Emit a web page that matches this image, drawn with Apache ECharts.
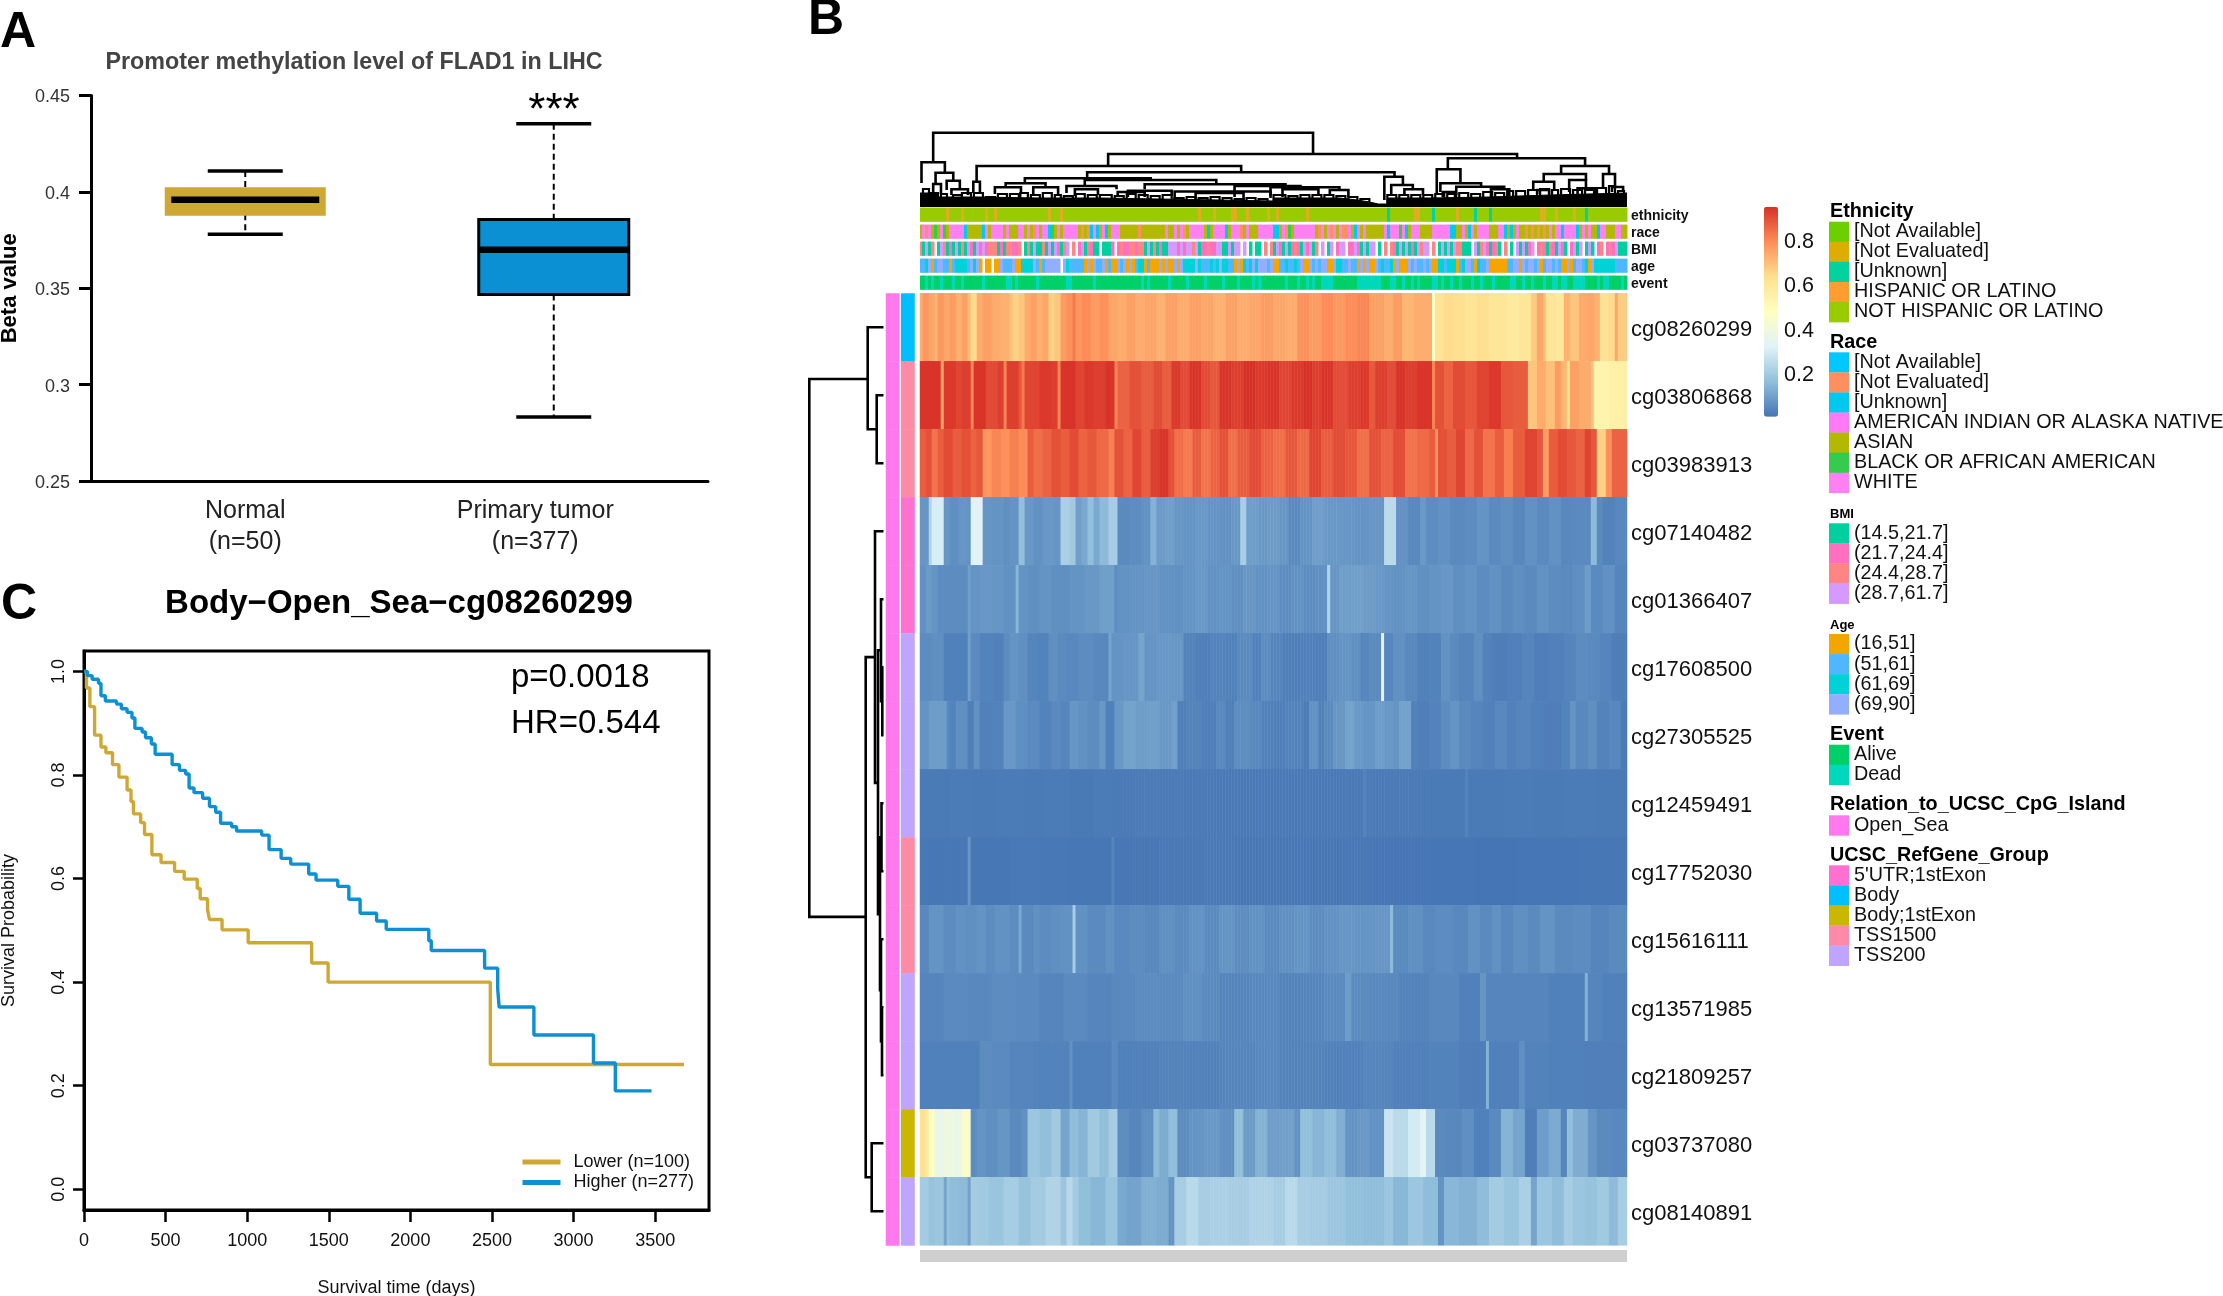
<!DOCTYPE html>
<html><head><meta charset="utf-8">
<style>html,body{margin:0;padding:0;background:#fff}#c{width:2223px;height:1296px}</style>
<script src="https://cdn.jsdelivr.net/npm/echarts@6/dist/echarts.min.js"></script>
</head><body><div id="c"></div><script>
// ---------- Panel A data ----------
const boxCategories = ['Normal\n(n=50)', 'Primary tumor\n(n=377)'];
const boxNormal = [0.378, 0.3884, 0.3959, 0.4016, 0.4108];
const boxTumor = [0.2832, 0.3467, 0.370, 0.3857, 0.4354];
// ---------- Panel C data ----------
const lowerDays = [0,15,36,65,104,134,175,214,264,288,303,347,371,416,472,555,614,694,712,757,769,846,1006,1395,1496,2490,3677];
const lowerSurv = [1,0.968,0.932,0.877,0.854,0.843,0.820,0.796,0.771,0.749,0.725,0.708,0.685,0.646,0.631,0.614,0.599,0.581,0.561,0.540,0.521,0.501,0.476,0.437,0.400,0.241,0.241];
const higherDays = [0,21,50,89,104,131,199,229,264,294,312,356,377,413,436,540,585,623,644,674,727,769,807,837,905,935,1089,1134,1208,1267,1377,1422,1555,1623,1692,1793,1852,2113,2128,2455,2535,2544,2757,3122,3256,3478];
const higherSurv = [1,0.992,0.985,0.977,0.953,0.943,0.937,0.928,0.921,0.910,0.890,0.883,0.872,0.860,0.840,0.820,0.809,0.802,0.775,0.766,0.755,0.739,0.728,0.707,0.700,0.692,0.684,0.656,0.639,0.628,0.609,0.597,0.585,0.560,0.533,0.518,0.502,0.480,0.461,0.427,0.388,0.352,0.298,0.244,0.190,0.190];
const survXTicks = [0,500,1000,1500,2000,2500,3000,3500];
const survYTicks = [0,0.2,0.4,0.6,0.8,1.0];
// ---------- Panel B data: rows as [lastColumn, value, ...] read across the picture ----------
const COLS = 236;
const cgIds = ['cg08260299','cg03806868','cg03983913','cg07140482','cg01366407','cg17608500','cg27305525','cg12459491','cg17752030','cg15616111','cg13571985','cg21809257','cg03737080','cg08140891'];
const cg08260299 = [1,.73,3,.77,5,.74,6,.71,8,.77,10,.74,12,.76,14,.72,16,.75,17,.70,19,.64,21,.73,24,.75,27,.73,30,.72,31,.69,33,.66,35,.68,37,.73,39,.75,41,.72,43,.74,45,.66,47,.68,49,.76,51,.78,52,.82,54,.77,57,.79,60,.76,63,.78,66,.74,69,.73,72,.75,75,.73,79,.74,82,.72,86,.75,90,.73,94,.75,98,.74,102,.72,106,.75,110,.73,114,.74,118,.76,122,.74,126,.73,130,.78,134,.76,138,.79,142,.77,146,.79,150,.80,155,.75,158,.73,161,.76,165,.71,171,.73,172,.45,175,.61,178,.64,182,.63,186,.61,190,.63,196,.60,200,.58,204,.60,206,.67,208,.74,209,.70,212,.61,215,.59,217,.72,220,.68,223,.73,225,.74,227,.72,230,.62,232,.64,233,.74,236,.67];
const cg03806868 = [7,.94,8,.74,12,.93,14,.91,17,.92,18,.80,22,.94,26,.90,28,.92,29,.80,33,.92,34,.88,35,.82,40,.91,44,.93,46,.92,47,.80,52,.94,55,.91,58,.93,62,.92,65,.94,66,.80,70,.86,74,.89,78,.87,81,.90,84,.87,87,.93,90,.90,94,.94,97,.90,100,.88,104,.94,108,.92,112,.945,116,.93,120,.94,124,.91,128,.93,131,.945,134,.92,138,.94,143,.90,147,.92,150,.93,152,.88,156,.92,159,.90,162,.94,166,.92,171,.94,172,.80,175,.89,178,.86,182,.90,186,.88,190,.91,194,.93,198,.88,203,.87,206,.68,209,.73,212,.69,214,.76,216,.71,217,.62,220,.75,224,.73,225,.69,230,.53,236,.55];
const cg03983913 = [2,.87,4,.89,6,.83,8,.87,11,.90,14,.87,17,.89,19,.86,21,.88,24,.77,27,.80,30,.78,33,.81,36,.79,38,.87,41,.84,44,.86,47,.89,50,.87,53,.90,56,.86,59,.88,63,.85,65,.81,68,.89,71,.86,74,.91,77,.87,80,.92,83,.94,85,.89,88,.84,91,.82,94,.87,97,.83,100,.86,103,.89,106,.84,110,.87,114,.90,118,.86,122,.84,126,.88,130,.85,134,.91,138,.87,142,.90,146,.88,150,.84,154,.89,158,.86,162,.90,166,.83,170,.85,172,.87,173,.78,176,.89,179,.87,182,.91,185,.85,188,.89,192,.83,195,.87,198,.81,202,.87,206,.91,208,.88,210,.76,213,.87,216,.90,219,.88,222,.86,224,.91,226,.88,229,.66,231,.78,236,.86];
const cg07140482 = [3,.07,4,.22,8,.30,10,.07,13,.055,16,.07,17,.06,21,.32,24,.07,28,.065,30,.055,33,.065,35,.16,38,.075,41,.06,45,.075,47,.07,50,.21,52,.19,54,.09,56,.11,58,.16,60,.11,63,.15,66,.20,70,.045,74,.05,77,.06,79,.13,82,.08,85,.09,88,.07,92,.065,96,.075,100,.065,104,.06,107,.075,109,.20,113,.085,116,.075,120,.08,123,.07,127,.045,131,.065,135,.085,140,.075,145,.07,150,.065,155,.07,159,.24,163,.06,167,.04,169,.075,173,.05,177,.06,182,.045,186,.05,190,.065,194,.045,198,.055,202,.04,206,.06,210,.045,214,.06,218,.04,224,.045,226,.15,228,.045,232,.03,236,.04];
const cg01366407 = [2,.06,4,.08,6,.065,10,.05,16,.05,17,.09,20,.065,24,.075,28,.07,32,.06,33,.14,36,.065,40,.055,44,.065,50,.055,55,.065,60,.075,65,.09,66,.05,70,.06,75,.065,80,.07,84,.06,88,.055,92,.065,96,.075,100,.06,104,.065,108,.055,112,.07,116,.06,120,.065,124,.05,128,.06,132,.05,136,.055,137,.22,140,.07,144,.085,148,.09,152,.08,155,.075,158,.065,162,.06,166,.07,170,.055,174,.065,178,.075,182,.055,186,.065,190,.05,194,.06,198,.045,202,.055,206,.045,210,.06,214,.05,218,.045,222,.055,224,.085,228,.045,232,.06,236,.035];
const cg17608500 = [4,.05,8,.055,10,.025,16,.025,17,.09,20,.045,25,.03,28,.025,30,.05,33,.065,36,.055,39,.035,43,.03,46,.055,49,.045,53,.04,58,.05,63,.04,64,.10,68,.065,73,.07,75,.10,79,.065,84,.075,88,.07,92,.03,97,.02,102,.03,106,.025,111,.045,114,.025,117,.05,121,.035,127,.02,132,.025,136,.02,140,.055,144,.065,147,.055,150,.035,154,.045,155,.33,158,.035,162,.055,166,.04,170,.025,174,.03,177,.06,180,.045,185,.035,188,.055,191,.03,196,.02,201,.025,205,.035,210,.02,215,.025,219,.035,223,.05,227,.045,231,.035,236,.02];
const cg27305525 = [3,.065,9,.085,10,.04,12,.03,16,.055,18,.02,20,.06,24,.025,28,.03,32,.075,36,.055,40,.045,44,.03,47,.045,50,.035,53,.07,56,.06,60,.05,62,.075,65,.025,68,.075,72,.095,76,.085,80,.09,84,.075,86,.09,89,.02,94,.03,99,.02,102,.04,105,.02,110,.05,114,.04,118,.025,122,.02,128,.03,130,.015,133,.06,135,.025,138,.045,142,.07,145,.095,148,.075,152,.065,155,.085,158,.075,160,.065,164,.095,166,.025,170,.02,174,.03,177,.05,180,.065,184,.045,188,.035,192,.025,196,.04,199,.025,204,.035,208,.025,214,.02,217,.03,219,.065,223,.04,226,.055,230,.03,234,.04,236,.015];
const cg12459491 = [10,.013,17,.015,25,.012,35,.015,42,.013,50,.015,58,.01,64,.015,72,.012,80,.015,88,.012,100,.009,112,.01,122,.009,138,.009,148,.009,149,.03,160,.013,172,.012,182,.012,183,.03,195,.012,205,.015,215,.012,225,.015,236,.012];
const cg17752030 = [16,.006,17,.07,30,.005,40,.008,50,.006,64,.005,65,.035,80,.004,95,.006,105,.009,118,.004,135,.005,150,.004,165,.003,185,.003,200,.001,220,.003,236,.004];
const cg15616111 = [3,.04,8,.065,12,.05,15,.06,19,.055,22,.065,25,.05,30,.06,33,.05,34,.11,38,.045,40,.06,44,.05,47,.055,51,.06,52,.20,56,.06,62,.045,65,.06,70,.04,75,.05,80,.04,85,.055,90,.045,95,.06,100,.045,105,.065,110,.05,115,.06,120,.045,125,.055,130,.065,135,.05,140,.06,145,.07,152,.065,157,.07,158,.15,163,.045,168,.055,172,.04,178,.05,183,.04,187,.06,191,.045,194,.06,198,.04,203,.055,207,.045,212,.065,218,.045,224,.05,230,.035,236,.045];
const cg13571985 = [8,.035,16,.045,24,.04,32,.05,40,.045,48,.035,56,.045,64,.035,72,.04,80,.05,88,.045,94,.055,100,.045,110,.035,120,.04,128,.03,135,.035,142,.045,144,.08,150,.045,160,.04,170,.03,180,.04,187,.025,189,.07,198,.035,210,.035,222,.025,223,.13,228,.035,236,.025];
const cg21809257 = [20,.025,24,.05,30,.045,38,.035,50,.03,51,.06,64,.025,66,.045,80,.025,90,.03,100,.025,112,.035,120,.04,135,.03,148,.025,158,.035,170,.025,180,.03,189,.02,190,.13,200,.025,202,.055,210,.03,222,.025,236,.022];
const cg03737080 = [2,.62,3,.58,5,.46,8,.36,11,.38,14,.36,17,.44,19,.05,22,.065,26,.055,30,.07,34,.045,36,.06,40,.18,44,.16,47,.19,50,.10,53,.155,56,.135,60,.19,63,.16,66,.20,70,.05,74,.035,78,.055,80,.15,83,.115,86,.155,90,.05,95,.065,100,.075,105,.055,108,.16,112,.08,116,.13,120,.085,125,.09,127,.06,131,.16,135,.135,139,.155,142,.12,146,.065,150,.075,155,.06,158,.27,163,.24,167,.29,169,.33,172,.24,176,.045,181,.04,185,.055,190,.025,194,.045,198,.135,202,.10,206,.02,210,.085,214,.115,216,.035,218,.16,223,.12,226,.07,231,.045,236,.04];
const cg08140891 = [3,.195,5,.17,8,.18,9,.10,10,.17,13,.155,16,.15,17,.095,19,.195,23,.19,28,.175,33,.20,37,.17,42,.195,47,.22,49,.18,51,.235,53,.195,57,.16,62,.14,66,.175,69,.11,74,.095,79,.125,83,.115,85,.065,89,.20,93,.235,97,.20,103,.21,110,.20,118,.215,122,.20,126,.235,130,.20,136,.195,142,.18,148,.16,155,.155,158,.175,163,.14,168,.18,173,.155,175,.065,180,.14,186,.13,190,.155,195,.195,200,.175,204,.21,206,.10,211,.18,215,.155,218,.20,222,.18,226,.17,230,.19,233,.15,236,.20];
const heatRows = [cg08260299,cg03806868,cg03983913,cg07140482,cg01366407,cg17608500,cg27305525,cg12459491,cg17752030,cg15616111,cg13571985,cg21809257,cg03737080,cg08140891];
const colorTicks = [0.2,0.4,0.6,0.8];
// Annotation tracks, one letter per column; left half + right half
const trackNames = ['ethnicity','race','BMI','age','event'];
const ethnicityOrange = [9,14,22,25,43,47,93,98,104,105,109,116,119,129,165,166,179,207,208,212,218];
const ethnicityGreen = [156,171,185,190,222];
const raceLeft = 'AWNWABAWBAWWWWWUAAAAAUWAWWWWAWAAAWWAWANWAWWUBAWAWWWWWANANUWUAWUAWWWAAAAAANAAAAAAAAWAAWAWNAWWWWWAUAWWWWUAWWWNAWAAAWWWWWA';
const raceRight = 'UAWNBAWWWWWWANWAWNWAWNWAUWAWAAAAAWUWWWBWUAWWAAAAWWWWWWUAAWAUWAWWWAAAWWUAUAWANANANANAWAWUWWWWUAWAWAUWWAAAWWAA';
const bmiLeft = 'STLTS_TLSTPTLTSTLPTLTPLPSSSTPTSSPPS_TSTLTPTSTLTLPTSL_S_PLTSPTST_TTTP_PSPPSSPSSTLTSTTPTTLLLPLPLLSLTPPSPPSLLTTLTLL_L_T_TT_S_SS';
const bmiRight = 'TLPTLTPSPTLPLTS_L_TL_PLL_PPLPTLTLL_T_S_SLPTLTLTPTLSLL_S_TLTLTLSSTTT_LTSLPTPST_S_TT_LTLTPL_PSPTSPTLPT_PLTL_TLT_PS_PSPLTTTT';
const ageLeft = 'BCVOBVVBBOBCCCBVCVONOONOOVBBVOOCCCCVBOBVVVV_VCBBBBBOVOVBVOBOOVBVOVOBCOBOOOVOVOOVOVCCCVCBBBCBCVCCBOVOCBCVCVVVBV';
const ageRight = 'OBBCBCBVOVBVBVOOVCBBVBOVOVOVBCBCOVOOVBVBVBVOCCBCCOBCVBOCBVOOOOOBBVOVBVBVOBVBVBOVOBVBCOVCCCCCBBBB';
const eventLeft = 'GEGEGGEGGGEGGEGGGGGGEGGGGGGGEEGEGGGGGGEGGGGGGGGGEEGGGGGGGEGGGGGGGGGGGGGGEGEGGGGGGEGGGGGEGGGGGEGGGGGEGGGGEGGGGEGEGGGG';
const eventRight = 'GGGEGGGEGGEGEGGEEEGGGGGGGGEEEEEEEGGGEEGGEGGEGEGGGEEGEGGEGGEGGGEGEGGGEGGGGGEEGGEGEGGGEGGEEGEEGGEEEGGGGEGEEGGGGEG';
const raceCodes = {U:'#00C8F0',N:'#FF8F5F',W:'#FF80F0',A:'#B3B800',B:'#35CC4D'};
const bmiCodes = {T:'#00CFA0',P:'#FF6FC0',S:'#FF8585',L:'#D49AFF'};
const ageCodes = {O:'#F5A500',B:'#4DB8FF',C:'#00D2D8',V:'#94AEFF'};
const eventCodes = {G:'#00D068',E:'#00D8BC'};
const ethnicityCodes = {N:'#99CC00',H:'#DFAE20',G:'#00D39B'};
// Row annotations
const rowRelation = Array(14).fill('Open_Sea');
const rowGroup = ['Body','TSS1500','TSS1500',"5'UTR;1stExon","5'UTR;1stExon",'TSS200','TSS200','TSS200','TSS1500','TSS1500','TSS200','TSS200','Body;1stExon','TSS200'];
const relationColors = {Open_Sea:'#FF78EE'};
const groupColors = {"5'UTR;1stExon":'#FF70D0',Body:'#00BFFF','Body;1stExon':'#C9B700',TSS1500:'#FF8AA8',TSS200:'#BFA5FF'};
// Column dendrogram: [leftCol, rightCol, height, leftChildHeight, rightChildHeight]
const colMerges = [[4.4,131.2,74.3,44.7,53],[62.8,199.3,53,41,48.7],[.5,8.3,44.7,24,34.3],[5.2,11.1,34.3,23,26.3],[8.9,13.3,26.3,17,17.7],[10.5,16,17.7,12,12],[4.4,7,23,13,13],[18.9,107.2,41,25.3,34.7],[17.8,20,25.3,14,14],[55.8,158.4,34.7,28.7,30.3],[155,161.2,30.3,7,22],[157.3,164.5,22,13,17.7],[161.7,167.9,17.7,12,12],[35,77,28.7,23.7,27],[28.6,41.9,23.7,19.7,19.7],[25,33.7,19.7,13,14],[37.8,46.1,19.7,13,13],[55,98.9,27,21,22.7],[48.9,65.6,21,14,17.7],[51.7,59.4,17.7,11,12],[75,122,22.7,17.7,20],[66,75,15,10,10],[69.4,84,16.3,10,11],[105,127,21,10,19.5],[85,117,15.5,8,9],[117,140,19.7,11,17],[121,133,17.7,10,11],[136.8,143,17,11,10],[92,108,14,7,7],[172.5,180.4,37.7,13,23.7],[176.2,222,48.7,37.7,41],[173.7,187.3,23.7,15,20.3],[174.5,178.6,15,10,10],[179,195,20.3,12,17.7],[190.6,196.7,17.7,10,11],[214,230,41,33,33],[208.2,222.3,33,25.3,27],[204.7,211.7,25.3,17,17],[216.7,222.3,27,15,18.7],[219.5,225.6,18.7,13,13],[228,232,33,20,20],[231,234.7,20,15,15],[206,210,17,13,13]];
// Small leaf-level clusters: [leftCol, rightCol, height]
const colSmallMerges = [[1,3,18],[3,6,14],[7,9,13],[11,14,12],[14,17,14],[18,21,14],[22,25,10],[26,29,13],[30,33,13],[33.5,36,14],[37,40,12],[41,44,14],[45,47,12],[48,51,11],[52,55,13],[56,59,12],[60,64,12],[65,68,11],[69,72,13],[73,76,12],[77,80,11],[81,84,12],[85,88,9],[89,92,10],[93,96,9],[97,100,10],[101,104,9],[105,108,8],[109,112,9],[113,116,8],[118,122,12],[123,126,11],[127,130,12],[131,134,12],[135,138,12],[139,142,11],[143,146,10],[147,150,8],[156,159,12],[160,163,12],[164,167,12],[168,171,12],[172,175,13],[176,179,13],[180,183,14],[184,187,13],[188,191,15],[192,195,14],[196,198,16],[199,202,16],[203,206,17],[207,210,18],[211,213,17],[214,217,18],[218,221,17],[222,225,17],[226,229,19],[230,232,21],[233,235,16]];
const colSilhouetteEnds = [6,20,40,60,80,100,118,140,146,150,153,156,170,190,210,236];
const colSilhouette = [14,10,9,9,8,7,6,9,7,5,3,3,9,10,12,14];
// Row dendrogram: [height, y1, y2, childHeight1, childHeight2]
const rowMerges = [[75.7,1.26,9.17,17.3,19.3],[17.3,.5,2,1.5,8.3],[8.3,1.5,2.5,1.5,1.5],[19.3,5.35,13,10,13.3],[13.3,12.5,13.5,1.5,1.5],[10,3.5,7.2,1.5,7],[7,5.25,9.13,4,5],[4,4.5,6,1.5,2.7],[2.7,5.5,6.5,1.5,1.5],[5,8,10.25,3.5,4],[3.5,7.5,8.5,1.5,1.5],[4,9.5,11,1.5,3],[3,10.5,11.5,1.5,1.5]];
// Legend blocks
const legendEthnicity = [['[Not Available]','#6CCF00'],['[Not Evaluated]','#DDAE00'],['[Unknown]','#00D39B'],['HISPANIC OR LATINO','#FF9E2F'],['NOT HISPANIC OR LATINO','#99CC00']];
const legendRace = [['[Not Available]','#00C8FF'],['[Not Evaluated]','#FF8F5F'],['[Unknown]','#00C8EE'],['AMERICAN INDIAN OR ALASKA NATIVE','#FF78F5'],['ASIAN','#B3B800'],['BLACK OR AFRICAN AMERICAN','#35CC4D'],['WHITE','#FF80F0']];
const legendBMI = [['(14.5,21.7]','#00CFA0'],['(21.7,24.4]','#FF6FC0'],['(24.4,28.7]','#FF8585'],['(28.7,61.7]','#D49AFF']];
const legendAge = [['(16,51]','#F5A500'],['(51,61]','#4DB8FF'],['(61,69]','#00D2D8'],['(69,90]','#94AEFF']];
const legendEvent = [['Alive','#00D068'],['Dead','#00D8BC']];
const legendRelation = [['Open_Sea','#FF78EE']];
const legendGroup = [["5'UTR;1stExon",'#FF70D0'],['Body','#00BFFF'],['Body;1stExon','#C9B700'],['TSS1500','#FF8AA8'],['TSS200','#BFA5FF']];

// ---------- helpers ----------
const F = '"Liberation Sans", Arial, sans-serif';
const GOLD = '#CFA833', BLUE = '#0A90D3';
function expand(bp){ const out=[]; for(let i=0;i<bp.length;i+=2){ while(out.length<bp[i]) out.push(bp[i+1]); } return out; }
function track(left,right){ const out=[]; const half=COLS/2;
  for(let i=0;i<half;i++) out.push(left[Math.floor(i*left.length/half)]);
  for(let i=0;i<half;i++) out.push(right[Math.floor(i*right.length/half)]);
  return out; }
const columns = Array.from({length:COLS},(_,i)=>String(i));
const heatData = [];
heatRows.forEach((bp,r)=>expand(bp).forEach((v,c)=>heatData.push([c,r,v])));
const ethTrack = columns.map((_,i)=>ethnicityOrange.includes(i)?'H':ethnicityGreen.includes(i)?'G':'N');
const trackRows = [[ethTrack,ethnicityCodes],[track(raceLeft,raceRight),raceCodes],[track(bmiLeft,bmiRight),bmiCodes],[track(ageLeft,ageRight),ageCodes],[track(eventLeft,eventRight),eventCodes]];
const trackColors = [], trackData = [];
trackRows.forEach(([t,codes],r)=>t.forEach((ch,c)=>{ if(codes[ch]){ trackData.push([c,r,trackColors.length]); trackColors.push(codes[ch]); } }));
const rowAnnColors = [], rowAnnData = [];
rowRelation.forEach((g,r)=>{ rowAnnData.push([0,r,rowAnnColors.length]); rowAnnColors.push(relationColors[g]); });
rowGroup.forEach((g,r)=>{ rowAnnData.push([1,r,rowAnnColors.length]); rowAnnColors.push(groupColors[g]); });
const silhouetteData = [];
colSilhouetteEnds.forEach((e,i)=>{ silhouetteData.push([i===0?0:colSilhouetteEnds[i-1],colSilhouette[i]]); });
silhouetteData.push([COLS,colSilhouette[colSilhouette.length-1]]);

function swatches(){
  const els=[];
  const blocks=[
    ['Ethnicity',legendEthnicity,19.8,211.5,221.7],['Race',legendRace,19.8,342.5,352.3],['BMI',legendBMI,13,514,523.3],
    ['Age',legendAge,13,625,634],['Event',legendEvent,19.8,734.5,744.7],['Relation_to_UCSC_CpG_Island',legendRelation,19.8,804.5,815.3],['UCSC_RefGene_Group',legendGroup,19.8,855.5,865.3]];
  blocks.forEach(([title,items,size,ty,top])=>{
    els.push({type:'text',style:{text:title,x:1830,y:ty,font:'bold '+size+'px '+F,fill:'#000',verticalAlign:'middle'}});
    items.forEach(([label,color],i)=>{
      els.push({type:'rect',shape:{x:1829,y:top+i*20.07,width:20,height:20.4},style:{fill:color}});
      els.push({type:'text',style:{text:label,x:1854,y:top+i*20.07+10,font:'19.75px '+F,fill:'#111',verticalAlign:'middle'}});
    });
  });
  return els;
}
const bigText=(text,x,y,font,align,fill)=>({type:'text',style:{text:text,x:x,y:y,font:font,fill:fill||'#000',align:align||'left',verticalAlign:'middle'}});
const hiddenAxis=(extra)=>Object.assign({show:false},extra);
const fixedGrid=(g)=>Object.assign({outerBoundsMode:'none',containLabel:false},g);
// a label nudged downward: rich text keeps the padding
const nudged=(size,top,color,weight)=>({a:{fontFamily:F,fontSize:size,color:color,fontWeight:weight||'normal',padding:[top,0,0,0]}});

const option={
  animation:false, backgroundColor:'#fff',
  textStyle:{fontFamily:F},
  grid:[
    fixedGrid({left:91,top:95.5,width:617,height:385.5}),
    fixedGrid({left:84,top:651,width:625,height:559,show:true,borderColor:'#000',borderWidth:3,backgroundColor:'transparent'}),
    fixedGrid({left:920,top:293.3,width:707,height:952}),
    fixedGrid({left:920,top:206.2,width:707,height:85}),
    fixedGrid({left:885,top:293.3,width:30.5,height:952}),
    fixedGrid({left:920,top:133,width:707,height:74}),
    fixedGrid({left:809,top:293.3,width:76,height:952}),
    fixedGrid({left:1764,top:206.7,width:14,height:210})
  ],
  xAxis:[
    {gridIndex:0,type:'category',data:boxCategories,axisLine:{lineStyle:{color:'#000',width:3}},axisTick:{alignWithLabel:true,length:14,lineStyle:{color:'#000',width:3}},
      axisLabel:{margin:15,interval:0,formatter:(v,i)=>v.split('\n').map(s=>'{'+(i?'t':'n')+'|'+s+'}').join('\n'),
        rich:{n:{fontFamily:F,fontSize:25,lineHeight:31,color:'#222'},t:{fontFamily:F,fontSize:25,lineHeight:31,color:'#222',padding:[0,37,0,0]}}}},
    {gridIndex:1,type:'value',min:0,max:3830,splitLine:{show:false},axisLine:{onZero:false,lineStyle:{color:'#000',width:3}},
      axisTick:{length:12,customValues:survXTicks,lineStyle:{color:'#000',width:2.5}},axisLabel:{customValues:survXTicks,margin:22,fontSize:18,color:'#111',fontFamily:F,formatter:v=>String(v)},
      name:'Survival time (days)',nameLocation:'middle',nameGap:69,nameTextStyle:{fontSize:18,color:'#111',fontFamily:F}},
    {gridIndex:2,type:'category',data:columns,show:false},
    {gridIndex:3,type:'category',data:columns,show:false},
    {gridIndex:4,type:'category',data:['relation','group'],show:false},
    hiddenAxis({gridIndex:5,type:'value',min:0,max:COLS}),
    hiddenAxis({gridIndex:6,type:'value',min:0,max:76,inverse:true}),
    hiddenAxis({gridIndex:7,type:'value',min:0,max:1})
  ],
  yAxis:[
    {gridIndex:0,type:'value',min:0.25,max:0.45,interval:0.05,splitLine:{show:false},axisLine:{show:true,lineStyle:{color:'#000',width:3}},
      axisTick:{show:true,length:12,lineStyle:{color:'#000',width:3}},axisLabel:{margin:21,formatter:v=>'{a|'+v+'}',rich:nudged(18,4,'#333')},
      name:'Beta value',nameLocation:'middle',nameGap:70,nameTextStyle:{fontSize:22,fontWeight:'bold',color:'#000',fontFamily:F}},
    {gridIndex:1,type:'value',min:-0.04,max:1.0395,splitLine:{show:false},axisLine:{onZero:false,lineStyle:{color:'#000',width:3}},
      axisTick:{length:11,customValues:survYTicks,lineStyle:{color:'#000',width:2.5}},
      axisLabel:{customValues:survYTicks,rotate:90,margin:16,fontSize:18,color:'#111',fontFamily:F,formatter:v=>v.toFixed(1)},
      name:'Survival Probability',nameLocation:'middle',nameGap:66,nameTextStyle:{fontSize:18,color:'#111',fontFamily:F}},
    {gridIndex:2,type:'category',data:cgIds,inverse:true,position:'right',axisLine:{show:false},axisTick:{show:false},axisLabel:{margin:4,interval:0,formatter:v=>'{a|'+v+'}',rich:nudged(22,6,'#111')}},
    {gridIndex:3,type:'category',data:trackNames,inverse:true,position:'right',axisLine:{show:false},axisTick:{show:false},axisLabel:{margin:4,interval:0,formatter:v=>'{a|'+v+'}',rich:nudged(14,2,'#111','bold')}},
    hiddenAxis({gridIndex:4,type:'category',data:cgIds,inverse:true}),
    hiddenAxis({gridIndex:5,type:'value',min:0,max:74}),
    hiddenAxis({gridIndex:6,type:'value',min:0,max:14,inverse:true}),
    {gridIndex:7,type:'value',min:0,max:0.946,position:'right',splitLine:{show:false},axisLine:{show:false},axisTick:{show:false},
      axisLabel:{customValues:colorTicks,margin:6,formatter:v=>'{a|'+v.toFixed(1)+'}',rich:nudged(21.5,6,'#111')}}
  ],
  visualMap:{type:'continuous',seriesIndex:2,dimension:2,min:0,max:0.946,left:1764,top:206.7,itemWidth:14,itemHeight:210,calculable:false,
    inRange:{color:['#4575B4','#91BFDB','#E0F3F8','#FFFFBF','#FEE090','#FC8D59','#D73027']},text:['',''],textStyle:{fontSize:1},padding:0},
  legend:{data:['Lower (n=100)','Higher (n=277)'],orient:'vertical',left:520,top:1153,itemWidth:38,itemHeight:14,itemGap:2.5,padding:0,
    lineStyle:{width:5},textStyle:{fontSize:18,color:'#111',fontFamily:F,padding:[0,0,0,8]},itemStyle:{opacity:0}},
  series:[
    {name:'Lower (n=100)',type:'line',xAxisIndex:1,yAxisIndex:1,step:'end',showSymbol:false,symbol:'none',lineStyle:{color:GOLD,width:3.4},itemStyle:{color:GOLD},
      data:lowerDays.map((d,i)=>[d,lowerSurv[i]])},
    {name:'Higher (n=277)',type:'line',xAxisIndex:1,yAxisIndex:1,step:'end',showSymbol:false,symbol:'none',lineStyle:{color:BLUE,width:3.4},itemStyle:{color:BLUE},
      data:higherDays.map((d,i)=>[d,higherSurv[i]])},
    {name:'methylation',type:'heatmap',xAxisIndex:2,yAxisIndex:2,data:heatData,progressive:0,emphasis:{disabled:true}},
    {name:'boxes',type:'custom',xAxisIndex:0,yAxisIndex:0,encode:{x:0,y:[1,2,3,4,5]},
      data:[[0,...boxNormal],[1,...boxTumor]],
      renderItem(params,api){
        const i=api.value(0), x=api.coord([i,0.3])[0], y=v=>api.coord([i,v])[1];
        const low=y(api.value(1)),q1=y(api.value(2)),med=y(api.value(3)),q3=y(api.value(4)),high=y(api.value(5));
        const w=i===0?158:150, fill=i===0?GOLD:BLUE, stroke=i===0?GOLD:'#000', capW=75;
        const ln=(x1,y1,x2,y2,lw,dash)=>({type:'line',shape:{x1,y1,x2,y2},style:{stroke:'#000',lineWidth:lw,lineDash:dash||null}});
        return {type:'group',children:[
          ln(x,high,x,q3,2,[6,4]),ln(x,q1,x,low,2,[6,4]),
          ln(x-capW/2,high,x+capW/2,high,3.5),ln(x-capW/2,low,x+capW/2,low,3.5),
          {type:'rect',shape:{x:x-w/2,y:q3,width:w,height:q1-q3},style:{fill,stroke,lineWidth:3}},
          ln(x-w/2+(i===0?5:0),med,x+w/2-(i===0?5:0),med,6.5)
        ]};
      }},
    {name:'tracks',type:'custom',xAxisIndex:3,yAxisIndex:3,data:trackData,encode:{x:0,y:1},
      renderItem(params,api){
        const c=api.coord([api.value(0),api.value(1)]), s=api.size([1,1]);
        return {type:'rect',shape:{x:Math.floor(c[0]-s[0]/2),y:c[1]-7.1,width:Math.ceil(s[0])+0.5,height:14.2},style:{fill:trackColors[api.value(2)]}};
      }},
    {name:'rowAnnotation',type:'custom',xAxisIndex:4,yAxisIndex:4,data:rowAnnData,encode:{x:0,y:1},
      renderItem(params,api){
        const c=api.coord([api.value(0),api.value(1)]), s=api.size([1,1]);
        return {type:'rect',shape:{x:c[0]-6.9,y:c[1]-s[1]/2,width:13.8,height:s[1]+0.5},style:{fill:rowAnnColors[api.value(2)]}};
      }},
    {name:'columnSilhouette',type:'line',xAxisIndex:5,yAxisIndex:5,step:'end',symbol:'none',showSymbol:false,lineStyle:{color:'#000',width:1},areaStyle:{color:'#000',opacity:1},data:silhouetteData},
    {name:'columnLeaves',type:'custom',xAxisIndex:5,yAxisIndex:5,data:colSmallMerges,encode:{x:[0,1],y:2},
      renderItem(params,api){
        const a=api.value(0),b=api.value(1),h=api.value(2);
        return {type:'polyline',shape:{points:[api.coord([a,3]),api.coord([a,h]),api.coord([b,h]),api.coord([b,3])]},style:{stroke:'#000',fill:null,lineWidth:2.2}};
      }},
    {name:'columnTree',type:'custom',xAxisIndex:5,yAxisIndex:5,data:colMerges,encode:{x:[0,1],y:[2,3,4]},
      renderItem(params,api){
        const a=api.value(0),b=api.value(1),h=api.value(2),hl=api.value(3),hr=api.value(4);
        return {type:'polyline',shape:{points:[api.coord([a,hl]),api.coord([a,h]),api.coord([b,h]),api.coord([b,hr])]},style:{stroke:'#000',fill:null,lineWidth:2.6}};
      }},
    {name:'rowTree',type:'custom',xAxisIndex:6,yAxisIndex:6,data:rowMerges,encode:{x:[0,3,4],y:[1,2]},
      renderItem(params,api){
        const h=api.value(0),y1=api.value(1),y2=api.value(2),c1=api.value(3),c2=api.value(4);
        return {type:'polyline',shape:{points:[api.coord([c1,y1]),api.coord([h,y1]),api.coord([h,y2]),api.coord([c2,y2])]},style:{stroke:'#000',fill:null,lineWidth:2.6}};
      }}
  ],
  graphic:{elements:[
    bigText('A',0,33,'bold 50px '+F),
    bigText('B',808,20,'bold 50px '+F),
    bigText('C',1,605,'bold 50px '+F),
    bigText('Promoter methylation level of FLAD1 in LIHC',354,63,'bold 23.3px '+F,'center','#444'),
    bigText('***',554,112,'44px '+F,'center'),
    bigText('Body\u2212Open_Sea\u2212cg08260299',399,604,'bold 33px '+F,'center'),
    bigText('p=0.0018',511,677.5,'33px '+F),
    bigText('HR=0.544',511,723.5,'33px '+F),
    {type:'rect',shape:{x:920,y:1250,width:707,height:12},style:{fill:'#cfcfcf'}},
    ...swatches()
  ]}
};
const chart=echarts.init(document.getElementById('c'),null,{renderer:'canvas',width:2223,height:1296});
chart.setOption(option);
</script></body></html>
